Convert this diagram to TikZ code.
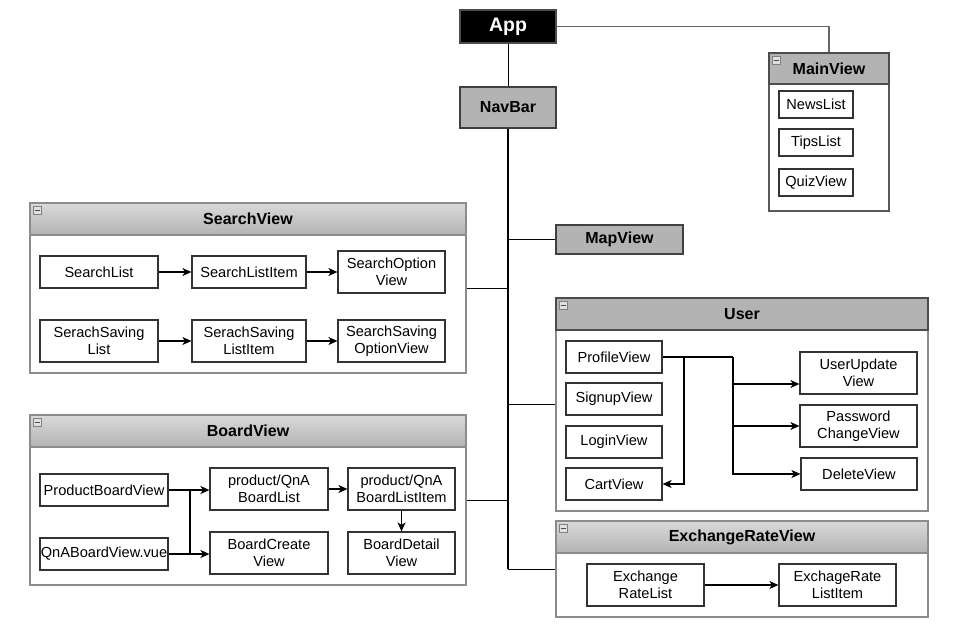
\documentclass[tikz,border=0pt]{standalone}
\usepackage{fontspec}
\setmainfont{Liberation Sans}
\usetikzlibrary{arrows.meta,calc}
\definecolor{hdr}{HTML}{B3B3B3}
\definecolor{hdrtop}{HTML}{D9D9D9}
\definecolor{cbord}{HTML}{8C8C8C}
\newcommand{\rbox}[7]{\node[#1, minimum width={(#5-#3)*1pt}, minimum height={(#6-#4)*1pt}] (#2) at ({(#3+#5)/2},{(#4+#6)/2}) {#7};}
\newcommand{\minusicon}[1]{\draw[draw=black!50, fill=black!12, line width=0.6pt] ($(#1.north west)+(4,4)$) rectangle ++(8,8);
  \draw[black!70, line width=0.8pt] ($(#1.north west)+(5.5,8)$) -- ++(5,0);}
\begin{document}
\begin{tikzpicture}[x=1pt,y=-1pt,
  box/.style={draw=black!80, line width=1.2pt, fill=white, inner sep=0pt, align=center,
    font=\fontsize{14.6}{17.5}\selectfont},
  cbody/.style={draw=cbord, line width=1.2pt, fill=white, inner sep=0pt},
  chead/.style={draw=cbord, line width=1.2pt, top color=hdrtop, bottom color=hdr, inner sep=0pt,
    font=\fontsize{16}{19}\selectfont\bfseries},
  cheadflat/.style={draw=black!70, line width=1.2pt, fill=hdr, inner sep=0pt,
    font=\fontsize{16}{19}\selectfont\bfseries},
  gbox/.style={draw=black!75, line width=1.2pt, fill=hdr, inner sep=0pt,
    font=\fontsize{16}{19}\selectfont\bfseries},
  arr/.style={-{Stealth[length=9pt,width=8pt,inset=2.5pt]}, line width=1.2pt, black},
  conn/.style={line width=1pt, black},
]
\useasboundingbox[fill=white] (0,0) rectangle (975,641);

% App and NavBar
\rbox{draw=black!70, line width=1.2pt, fill=black, text=white, inner sep=0pt, font=\fontsize{19.5}{22}\selectfont\bfseries}{app}{460}{10}{556}{43}{App}
\rbox{gbox}{nav}{460}{87}{556}{128}{NavBar}
\rbox{gbox}{map}{556}{225}{683}{254}{MapView}

% MainView
\rbox{draw=black!65, line width=1.2pt, fill=white, inner sep=0pt}{main}{769}{53}{889}{211}{}
\rbox{cheadflat}{mainh}{769}{53}{889}{84}{MainView}
\minusicon{mainh}
\rbox{box}{news}{779}{91}{853}{118}{NewsList}
\rbox{box}{tips}{779}{129}{853}{156}{TipsList}
\rbox{box}{quiz}{779}{169}{853}{196}{QuizView}

% SearchView
\rbox{cbody}{search}{30}{203}{466}{373}{}
\rbox{chead}{searchh}{30}{203}{466}{235}{SearchView}
\minusicon{searchh}
\rbox{box}{sl}{40}{256}{158}{288}{SearchList}
\rbox{box}{sli}{192}{256}{306}{288}{SearchListItem}
\rbox{box}{sov}{338}{251}{445}{293}{SearchOption\\View}
\rbox{box}{ssl}{40}{320}{158}{362}{SerachSaving\\List}
\rbox{box}{ssli}{192}{320}{306}{362}{SerachSaving\\ListItem}
\rbox{box}{ssov}{338}{320}{445}{362}{SearchSaving\\OptionView}
\draw[arr] (sl.east) -- (sl.east -| sli.west);
\draw[arr] (sli.east) -- (sli.east -| sov.west);
\draw[arr] (ssl.east) -- (ssli.west);
\draw[arr] (ssli.east) -- (ssov.west);

% BoardView
\rbox{cbody}{board}{30}{415}{466}{585}{}
\rbox{chead}{boardh}{30}{415}{466}{447}{BoardView}
\minusicon{boardh}
\rbox{box}{pbv}{40}{474}{168}{506}{ProductBoardView}
\rbox{box}{qbv}{40}{538}{168}{570}{QnABoardView.vue}
\rbox{box}{bl}{210}{468}{328}{510}{product/QnA\\BoardList}
\rbox{box}{bc}{210}{532}{328}{574}{BoardCreate\\View}
\rbox{box}{bli}{348}{468}{455}{510}{product/QnA\\BoardListItem}
\rbox{box}{bdv}{348}{532}{455}{574}{BoardDetail\\View}
\coordinate (jb1) at (190,490);
\coordinate (jb2) at (190,554);
\draw[arr, line width=1.6pt] (pbv.east) -- (pbv.east -| bl.west);
\draw[arr, line width=1.6pt] (qbv.east) -- (qbv.east -| bc.west);
\draw[line width=1.6pt] (jb1) -- (jb2);
\draw[arr] (bl.east) -- (bli.west);
\draw[arr] (bli.south) -- (bdv.north);

% User
\rbox{cbody}{user}{556}{298}{928}{511}{}
\rbox{cheadflat}{userh}{556}{298}{928}{330}{User}
\minusicon{userh}
\rbox{box}{pv}{566}{341}{662}{373}{ProfileView}
\rbox{box}{sv}{566}{383}{662}{415}{SignupView}
\rbox{box}{lv}{566}{426}{662}{458}{LoginView}
\rbox{box}{cv}{566}{468}{662}{500}{CartView}
\rbox{box}{uu}{800}{352}{917}{394}{UserUpdate\\View}
\rbox{box}{pc}{800}{405}{917}{447}{Password\\ChangeView}
\rbox{box}{dv}{801}{458}{917}{490}{DeleteView}
\coordinate (ju1) at (684,357);
\coordinate (ju2) at (733,357);
\draw[line width=1.6pt] (pv.east) -- (ju2);
\draw[arr] (ju2) |- (dv.west);
\draw[arr] (ju2) |- (pc.west);
\draw[arr] (ju2) |- ([yshift=-11pt]uu.west);
\draw[arr] (ju1) |- (cv.east);

% ExchangeRateView
\rbox{cbody}{ex}{556}{521}{928}{617}{}
\rbox{chead}{exh}{556}{521}{928}{553}{ExchangeRateView}
\minusicon{exh}
\rbox{box}{erl}{587}{564}{704}{606}{Exchange\\RateList}
\rbox{box}{erli}{779}{564}{896}{606}{ExchageRate\\ListItem}
\draw[arr] (erl.east) -- (erli.west);

% tree connectors
\draw[conn] (app.south) -- (nav.north);
\draw[line width=1.3pt, black!60] (app.east) -| (main.north);
\draw[line width=1.6pt] (nav.south) -- (nav.south |- ex.west);
\draw[conn] (nav.south |- ex.west) -- (ex.west);
\draw[conn] (search.east) -- (search.east -| nav.south);
\draw[conn] (map.west) -- (map.west -| nav.south);
\draw[conn] (user.west) -- (user.west -| nav.south);
\draw[conn] (board.east) -- (board.east -| nav.south);
\end{tikzpicture}
\end{document}
